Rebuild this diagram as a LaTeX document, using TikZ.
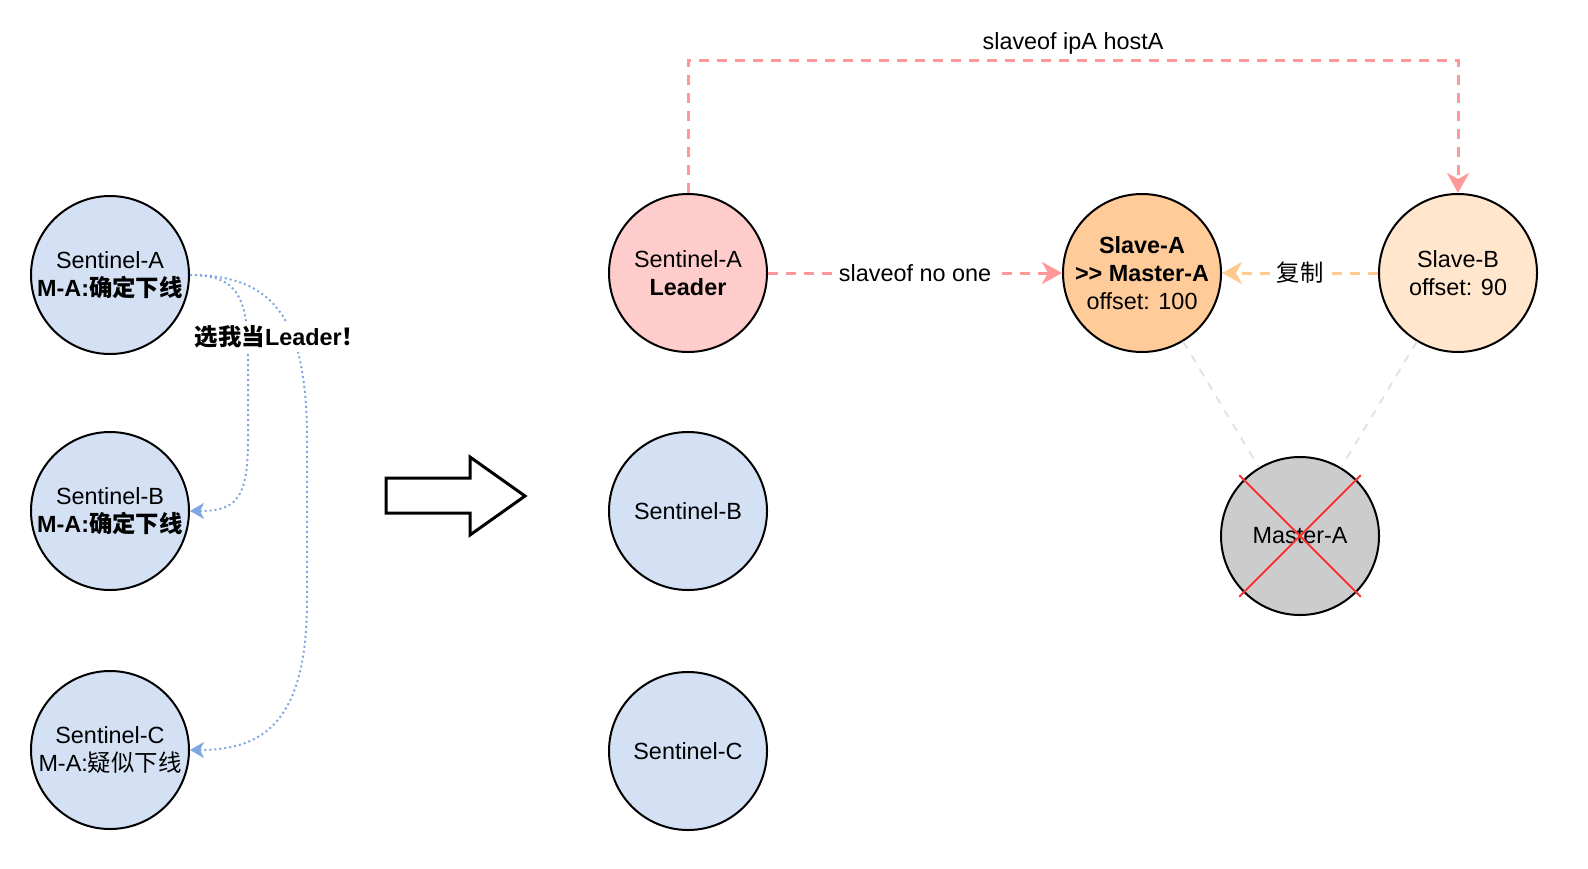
\documentclass[tikz,border=0pt]{standalone}
\usepackage{fontspec}
\setmainfont{Liberation Sans}
\newfontfamily\cjk{Noto Sans CJK SC}
\usetikzlibrary{arrows.meta}
\definecolor{sentblue}{HTML}{D4E1F5}
\definecolor{leaderred}{HTML}{FFCCCC}
\definecolor{slaveaorange}{HTML}{FFCC99}
\definecolor{slavebpeach}{HTML}{FFE6CC}
\definecolor{mastergray}{HTML}{CCCCCC}
\definecolor{linkred}{HTML}{FF9999}
\definecolor{linkorange}{HTML}{FFC990}
\definecolor{votblue}{HTML}{7EA6E0}
\definecolor{crossred}{HTML}{FF3333}
\definecolor{faintgray}{HTML}{E2E2E2}
\begin{document}
\begin{tikzpicture}[x=0.5pt,y=-0.5pt,
        every node/.style={font=\fontsize{11.7}{14}\selectfont},
        ball/.style={circle, draw=black, line width=1pt, minimum size=79pt, inner sep=0pt, align=center},
        redlink/.style={draw=linkred, line width=1.5pt, dash pattern=on 5pt off 4pt, -{Stealth[length=10pt,width=11pt,inset=3pt]}},
        orangelink/.style={draw=linkorange, line width=1.5pt, dash pattern=on 5pt off 4pt, -{Stealth[length=10pt,width=11pt,inset=3pt]}},
        vote/.style={draw=votblue, line width=1pt, dash pattern=on 1pt off 1.5pt, -{Stealth[length=7pt,width=8pt,inset=2pt]}},
        lbl/.style={fill=white, inner sep=2pt},
        ]
        \useasboundingbox (0,0) rectangle (1588,868);

        \node (sentA) at (110,275) [ball, fill=sentblue] {Sentinel-A\\\textbf{M-A:{\cjk 确定下线}}};
        \node (sentB) at (110,511) [ball, fill=sentblue] {Sentinel-B\\\textbf{M-A:{\cjk 确定下线}}};
        \node (sentC) at (110,750) [ball, fill=sentblue] {Sentinel-C\\M-A:{\cjk 疑似下线}};

        \draw[vote] (sentA.east) .. controls (240,275) and (248,300) .. (248,360) -- (248,440) .. controls (248,500) and (235,511) .. (sentB.east);
        \draw[vote] (sentA.east) .. controls (275,275) and (307,320) .. (307,440) -- (307,600) .. controls (307,720) and (265,750) .. (sentC.east);
        \node (vote) at (280,337) [lbl] {\textbf{{\cjk 选我当}Leader{\cjk ！}}};

        \draw[line width=1.5pt, line join=miter] (386,478) -- (470,478) -- (470,457) -- (525,496) -- (470,535) -- (470,513) -- (386,513) -- cycle;

        \node (leader) at (688,273) [ball, fill=leaderred] {Sentinel-A\\\textbf{Leader}};
        \node (sentB2) at (688,511) [ball, fill=sentblue] {Sentinel-B};
        \node (sentC2) at (688,751) [ball, fill=sentblue] {Sentinel-C};

        \node (slaveA) at (1142,273) [ball, fill=slaveaorange] {\textbf{Slave-A}\\\textbf{{>}{>} Master-A}\\offset: 100};
        \node (slaveB) at (1458,273) [ball, fill=slavebpeach] {Slave-B\\offset: 90};
        \node (masterA) at (1300,536) [ball, fill=mastergray] {Master-A};

        \draw[faintgray, line width=1pt, dash pattern=on 4pt off 4pt] (slaveA) -- (masterA);
        \draw[faintgray, line width=1pt, dash pattern=on 4pt off 4pt] (slaveB) -- (masterA);
        \draw[crossred, line width=1pt, shorten <=-3pt, shorten >=-3pt] (masterA.north west) -- (masterA.south east);
        \draw[crossred, line width=1pt, shorten <=-3pt, shorten >=-3pt] (masterA.north east) -- (masterA.south west);

        \coordinate (topright) at (1458,60);
        \draw[redlink] (leader.north) |- node[pos=0.75, above, inner sep=2pt] {slaveof ipA hostA} (topright) -- (slaveB.north);
        \draw[redlink] (leader.east) -- node[lbl] {slaveof no one} (slaveA.west);
        \draw[orangelink] (slaveB.west) -- node[lbl] {\cjk 复制} (slaveA.east);

    \end{tikzpicture}
\end{document}
